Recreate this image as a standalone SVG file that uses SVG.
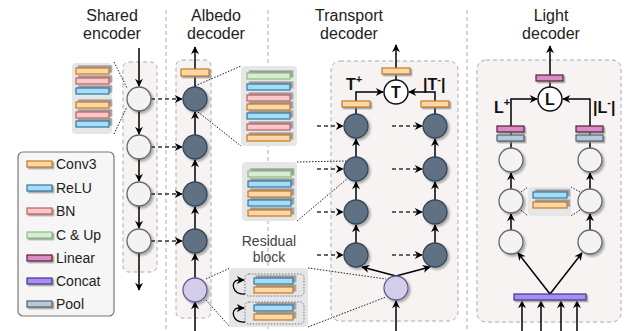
<svg xmlns="http://www.w3.org/2000/svg" width="624" height="331" viewBox="0 0 624 331">
<defs>
<marker id="ah" viewBox="0 0 10 10" refX="9" refY="5" markerWidth="9" markerHeight="8" markerUnits="userSpaceOnUse" orient="auto">
<path d="M0,0 L10,5 L0,10 L3,5 z" fill="#000"/>
</marker>
<filter id="sh" x="-30%" y="-30%" width="170%" height="170%">
<feDropShadow dx="2" dy="2" stdDeviation="1" flood-color="#000" flood-opacity="0.3"/>
</filter>
<filter id="bsh" x="-20%" y="-60%" width="140%" height="220%">
<feDropShadow dx="2.5" dy="-2" stdDeviation="0.6" flood-color="#888" flood-opacity="0.8"/>
</filter>
<filter id="lsh" x="-20%" y="-60%" width="140%" height="220%">
<feDropShadow dx="1.5" dy="1.5" stdDeviation="0.6" flood-color="#888" flood-opacity="0.8"/>
</filter>
</defs>
<style>
text{font-family:"Liberation Sans",Arial,sans-serif;fill:#222}
.title{font-size:16px;text-anchor:middle}
.leg{font-size:14px}
.lbl{font-size:16px;font-weight:bold;fill:#111}
.sup{font-size:11px}
.cont{fill:#f7f3f3;stroke:#aaa;stroke-width:1;stroke-dasharray:4 3}
.sep{stroke:#aaa;stroke-width:1;stroke-dasharray:4 3;fill:none}
.panel{fill:#e6e6e6}
.conv{fill:#fdd8a6;stroke:#c47a1c;stroke-width:1.2}
.relu{fill:#a9dcf2;stroke:#2a7aa6;stroke-width:1.2}
.bn{fill:#f8c9c9;stroke:#c75b5b;stroke-width:1.2}
.cup{fill:#d6edd1;stroke:#8bbd7c;stroke-width:1.2}
.lin{fill:#d98bc9;stroke:#5a1b2c;stroke-width:1.2}
.cat{fill:#a88ef2;stroke:#46308e;stroke-width:1.2}
.pool{fill:#b9c9d6;stroke:#4a6479;stroke-width:1.2}
.bar{filter:url(#bsh)}
.lbar{filter:url(#lsh)}
.wc{fill:#f3f3f3;stroke:#666;stroke-width:1.3;filter:url(#sh)}
.dc{fill:#5f7183;stroke:#34465a;stroke-width:1.3;filter:url(#sh)}
.lc{fill:#d2cee8;stroke:#67589a;stroke-width:1.3;filter:url(#sh)}
.op{fill:#fff;stroke:#111;stroke-width:1.5}
.ar{stroke:#000;stroke-width:1.5;fill:none;marker-end:url(#ah)}
.da{stroke:#333;stroke-width:1.4;fill:none;stroke-dasharray:4 3;marker-end:url(#ah)}
.dot{stroke:#222;stroke-width:1;fill:none;stroke-dasharray:1.5 1.5}
.inner{fill:none;stroke:#777;stroke-width:1;stroke-dasharray:1.5 1.5}
</style>

<!-- separators -->
<g id="separators">
<line class="sep" x1="166" y1="10" x2="166" y2="331"/>
<line class="sep" x1="268" y1="10" x2="268" y2="331"/>
<line class="sep" x1="467" y1="10" x2="467" y2="331"/>
</g>

<!-- titles -->
<g id="titles">
<text class="title" x="112" y="21">Shared</text>
<text class="title" x="112" y="39">encoder</text>
<text class="title" x="216" y="21">Albedo</text>
<text class="title" x="216" y="39">decoder</text>
<text class="title" x="349" y="21">Transport</text>
<text class="title" x="349" y="39">decoder</text>
<text class="title" x="551" y="21">Light</text>
<text class="title" x="551" y="39">decoder</text>
</g>

<!-- containers -->
<g id="containers">
<rect class="cont" x="123" y="62" width="34" height="210" rx="6"/>
<rect class="cont" x="176" y="60" width="35" height="258" rx="6"/>
<rect class="cont" x="331" y="61" width="127" height="260" rx="9"/>
<rect class="cont" x="477" y="60" width="144" height="262" rx="9"/>
</g>

<!-- legend -->
<g id="legend">
<rect x="18" y="152" width="96" height="164" rx="5" fill="#f6f6f6" stroke="#777" stroke-width="1.2"/>
<rect class="conv lbar" x="27" y="161" width="25" height="6"/><text class="leg" x="56" y="169">Conv3</text>
<rect class="relu lbar" x="27" y="185" width="25" height="6"/><text class="leg" x="56" y="193">ReLU</text>
<rect class="bn lbar" x="27" y="208" width="25" height="6"/><text class="leg" x="56" y="216">BN</text>
<rect class="cup lbar" x="27" y="232" width="25" height="6"/><text class="leg" x="56" y="240">C &amp; Up</text>
<rect class="lin lbar" x="27" y="255" width="25" height="6"/><text class="leg" x="56" y="263">Linear</text>
<rect class="cat lbar" x="27" y="278" width="25" height="6"/><text class="leg" x="56" y="286">Concat</text>
<rect class="pool lbar" x="27" y="301" width="25" height="6"/><text class="leg" x="56" y="309">Pool</text>
</g>

<!-- encoder layer stack -->
<g id="encoder-stack">
<rect class="panel" x="72" y="63" width="40" height="71" rx="4"/>
<rect class="conv bar" x="76" y="68" width="33" height="6"/>
<rect class="bn bar" x="76" y="78" width="33" height="6"/>
<rect class="relu bar" x="76" y="88" width="33" height="6"/>
<rect class="conv bar" x="76" y="102" width="33" height="6"/>
<rect class="bn bar" x="76" y="112" width="33" height="6"/>
<rect class="relu bar" x="76" y="121" width="33" height="6"/>
</g>

<!-- albedo decoder layer stack -->
<g id="albedo-stack">
<rect class="panel" x="241" y="66" width="56" height="80" rx="4"/>
<rect class="cup bar" x="247" y="73" width="43" height="6"/>
<rect class="relu bar" x="247" y="84" width="43" height="6"/>
<rect class="bn bar" x="247" y="95" width="43" height="6"/>
<rect class="conv bar" x="247" y="104" width="43" height="6"/>
<rect class="relu bar" x="247" y="113" width="43" height="6"/>
<rect class="bn bar" x="247" y="124" width="43" height="6"/>
<rect class="conv bar" x="247" y="135" width="43" height="6"/>
</g>

<!-- transport decoder layer stack -->
<g id="transport-stack">
<rect class="panel" x="242" y="162" width="55" height="59" rx="4"/>
<rect class="cup bar" x="248" y="171" width="43" height="6"/>
<rect class="relu bar" x="248" y="181" width="43" height="6"/>
<rect class="conv bar" x="248" y="191" width="43" height="6"/>
<rect class="relu bar" x="248" y="200" width="43" height="6"/>
<rect class="conv bar" x="248" y="210" width="43" height="6"/>
</g>

<!-- residual block -->
<g id="residual-block">
<text class="leg" x="269" y="246" text-anchor="middle" style="fill:#444">Residual</text>
<text class="leg" x="269" y="262" text-anchor="middle" style="fill:#444">block</text>
<rect class="panel" x="229" y="268" width="79" height="59" rx="4"/>
<rect class="inner" x="245" y="274" width="59" height="22" rx="4"/>
<rect class="inner" x="245" y="302" width="59" height="22" rx="4"/>
<rect class="relu bar" x="254" y="278" width="39" height="6"/>
<rect class="conv bar" x="254" y="287" width="39" height="6"/>
<rect class="relu bar" x="254" y="305" width="39" height="6"/>
<rect class="conv bar" x="254" y="314" width="39" height="6"/>
<path d="M245,294 C232,295 230,281 238,280 L244,280" fill="none" stroke="#000" stroke-width="1.3" marker-end="url(#ah)"/>
<path d="M245,322 C232,323 230,309 238,308 L244,308" fill="none" stroke="#000" stroke-width="1.3" marker-end="url(#ah)"/>
</g>

<!-- light mid stack -->
<g id="light-stack">
<rect class="panel" x="528" y="187" width="43" height="29" rx="4"/>
<rect class="relu bar" x="533" y="192" width="34" height="6"/>
<rect class="conv bar" x="533" y="202" width="34" height="6"/>
</g>

<!-- connectors -->
<g id="connectors">
<line class="dot" x1="114" y1="62" x2="127" y2="88"/>
<line class="dot" x1="114" y1="134" x2="127" y2="107"/>
<line class="dot" x1="195" y1="86" x2="241" y2="66"/>
<line class="dot" x1="198" y1="112" x2="241" y2="146"/>
<line class="dot" x1="297" y1="162" x2="346" y2="161"/>
<line class="dot" x1="297" y1="221" x2="347" y2="179"/>
<line class="dot" x1="206" y1="279" x2="230" y2="268"/>
<line class="dot" x1="206" y1="300" x2="230" y2="327"/>
<line class="dot" x1="308" y1="268" x2="386" y2="279"/>
<line class="dot" x1="308" y1="327" x2="386" y2="297"/>
<line class="dot" x1="521" y1="192" x2="528" y2="187"/>
<line class="dot" x1="521" y1="210" x2="528" y2="216"/>
<line class="dot" x1="580" y1="192" x2="571" y2="187"/>
<line class="dot" x1="580" y1="210" x2="571" y2="216"/>

<path class="ar" d="M139,48 L139,86"/>
<path class="ar" d="M139,111 L139,134"/>
<path class="ar" d="M139,159 L139,181"/>
<path class="ar" d="M139,206 L139,228"/>
<path class="ar" d="M139,253 L139,290"/>
<path class="da" d="M151,99 L182,99"/>
<path class="da" d="M151,147 L182,147"/>
<path class="da" d="M151,194 L182,194"/>
<path class="da" d="M151,241 L182,241"/>
<path class="ar" d="M195,331 L195,302"/>
<path class="ar" d="M195,278 L195,254"/>
<path class="ar" d="M195,229 L195,207"/>
<path class="ar" d="M195,182 L195,160"/>
<path class="ar" d="M195,135 L195,112"/>
<path class="ar" d="M195,87 L195,47"/>
<path class="ar" d="M396,331 L396,301"/>
<path class="ar" d="M396,276 L362,267"/>
<path class="ar" d="M396,276 L430,267"/>
<path class="ar" d="M356,243 L356,225"/>
<path class="ar" d="M356,200 L356,182"/>
<path class="ar" d="M356,157 L356,139"/>
<path class="ar" d="M435,243 L435,225"/>
<path class="ar" d="M435,200 L435,182"/>
<path class="ar" d="M435,157 L435,139"/>
<path class="ar" d="M356,114 L356,92 L383,92"/>
<path class="ar" d="M435,114 L435,92 L409,92"/>
<path class="ar" d="M396,80 L396,45"/>
<path class="da" d="M317,126 L343,126"/>
<path class="da" d="M317,169 L343,169"/>
<path class="da" d="M317,212 L343,212"/>
<path class="da" d="M317,255 L343,255"/>
<path class="da" d="M392,126 L422,126"/>
<path class="da" d="M392,169 L422,169"/>
<path class="da" d="M392,212 L422,212"/>
<path class="da" d="M392,255 L422,255"/>
<path class="ar" d="M522,331 L522,301"/>
<path class="ar" d="M541,331 L541,301"/>
<path class="ar" d="M561,331 L561,301"/>
<path class="ar" d="M577,331 L577,301"/>
<path class="ar" d="M550,294 L518,253"/>
<path class="ar" d="M550,294 L582,253"/>
<path class="ar" d="M511,230 L511,214"/>
<path class="ar" d="M511,189 L511,173"/>
<path class="ar" d="M590,230 L590,214"/>
<path class="ar" d="M590,189 L590,173"/>
<path class="ar" d="M511,148 L511,99 L537,99"/>
<path class="ar" d="M590,148 L590,99 L563,99"/>
<path class="ar" d="M550,87 L550,46"/>
</g>

<g id="encoder-nodes">
<circle class="wc" cx="139" cy="99" r="12"/>
<circle class="wc" cx="139" cy="147" r="12"/>
<circle class="wc" cx="139" cy="194" r="12"/>
<circle class="wc" cx="139" cy="241" r="12"/>
</g>
<g id="albedo-nodes">
<circle class="dc" cx="195" cy="99" r="12"/>
<circle class="dc" cx="195" cy="147" r="12"/>
<circle class="dc" cx="195" cy="194" r="12"/>
<circle class="dc" cx="195" cy="241" r="12"/>
<circle class="lc" cx="195" cy="290" r="12"/>
<rect class="conv lbar" x="181" y="69" width="28" height="7"/>
</g>
<g id="transport-nodes">
<circle class="dc" cx="356" cy="126" r="12"/>
<circle class="dc" cx="356" cy="169" r="12"/>
<circle class="dc" cx="356" cy="212" r="12"/>
<circle class="dc" cx="356" cy="255" r="12"/>
<circle class="dc" cx="435" cy="126" r="12"/>
<circle class="dc" cx="435" cy="169" r="12"/>
<circle class="dc" cx="435" cy="212" r="12"/>
<circle class="dc" cx="435" cy="255" r="12"/>
<circle class="lc" cx="396" cy="288" r="12"/>
<rect class="conv lbar" x="342" y="101" width="28" height="6"/>
<rect class="conv lbar" x="421" y="101" width="28" height="6"/>
<rect class="conv lbar" x="382" y="68" width="28" height="6"/>
<circle class="op" cx="396" cy="92" r="12"/>
<text class="lbl" x="396" y="98" text-anchor="middle">T</text>
<text class="lbl" x="346" y="90">T<tspan class="sup" dy="-7">+</tspan></text>
<text class="lbl" x="423" y="90">|T<tspan class="sup" dy="-7">-</tspan><tspan dy="7">|</tspan></text>
</g>
<g id="light-nodes">
<circle class="wc" cx="511" cy="160" r="12"/>
<circle class="wc" cx="511" cy="201" r="12"/>
<circle class="wc" cx="511" cy="242" r="12"/>
<circle class="wc" cx="590" cy="160" r="12"/>
<circle class="wc" cx="590" cy="201" r="12"/>
<circle class="wc" cx="590" cy="242" r="12"/>
<rect class="cat lbar" x="514" y="294" width="72" height="6"/>
<rect class="pool lbar" x="497" y="135" width="27" height="6"/>
<rect class="lin lbar" x="497" y="126" width="27" height="6"/>
<rect class="pool lbar" x="576" y="135" width="27" height="6"/>
<rect class="lin lbar" x="576" y="126" width="27" height="6"/>
<rect class="lin lbar" x="536" y="75" width="27" height="6"/>
<circle class="op" cx="550" cy="99" r="12"/>
<text class="lbl" x="550" y="105" text-anchor="middle">L</text>
<text class="lbl" x="494" y="113">L<tspan class="sup" dy="-7">+</tspan></text>
<text class="lbl" x="593" y="113">|L<tspan class="sup" dy="-7">-</tspan><tspan dy="7">|</tspan></text>
</g>
</svg>
